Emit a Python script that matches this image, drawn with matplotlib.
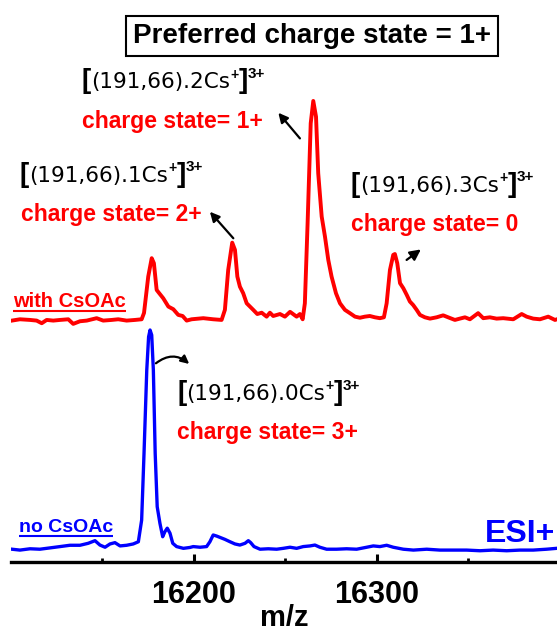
import matplotlib
matplotlib.use("Agg")
import matplotlib.pyplot as plt
from matplotlib.ticker import FixedLocator

plt.rcParams["font.family"] = ["Liberation Sans", "DejaVu Sans"]

# ---------------------------------------------------------------- data
# ESI+ spectrum of the (191,66) cluster with CsOAc added (relative intensity)
mz_red = [16100.5, 16104.9, 16110.4, 16114.0, 16116.8, 16119.5, 16123.1, 16126.8,
          16131.3, 16134.0, 16137.7, 16141.4, 16146.8, 16150.4, 16155.0, 16158.6,
          16163.2, 16167.8, 16171.4, 16172.7, 16175.0, 16176.9, 16178.1, 16179.6,
          16181.0, 16183.2, 16186.0, 16188.7, 16191.4, 16193.8, 16196.0, 16198.7,
          16205.1, 16210.5, 16215.1, 16216.9, 16218.7, 16220.9, 16222.4, 16223.7,
          16225.1, 16226.9, 16228.8, 16230.6, 16232.4, 16234.6, 16237.0, 16239.7,
          16241.5, 16243.3, 16247.0, 16249.7, 16252.5, 16256.1, 16257.9, 16259.4,
          16260.6, 16262.1, 16263.8, 16265.2, 16266.7, 16267.9, 16269.8, 16271.6,
          16273.4, 16275.2, 16277.6, 16279.8, 16282.5, 16285.2, 16288.0, 16290.7,
          16293.4, 16296.1, 16298.9, 16301.6, 16303.8, 16305.3, 16307.1, 16308.9,
          16309.8, 16311.1, 16312.6, 16314.4, 16316.3, 16318.0, 16319.8, 16321.7,
          16323.5, 16326.2, 16329.0, 16332.6, 16336.2, 16338.9, 16342.6, 16345.3,
          16348.1, 16350.8, 16355.3, 16358.1, 16361.7, 16365.4, 16369.0, 16374.5,
          16379.1, 16381.8, 16385.4, 16389.1, 16393.6, 16397.3, 16398.4]
int_red = [-0.3, 0.3, 0.0, -0.3, -1.5, 0.0, -0.3, 0.0,
           0.3, -1.8, -0.6, -0.3, 0.8, -0.3, 0.0, 0.3,
           -0.3, 0.0, 0.3, 3.2, 19.8, 28.2, 25.9, 13.7,
           12.2, 9.9, 6.1, 4.9, 2.3, 1.8, -0.3, 0.3,
           0.8, 0.3, 0.0, 4.6, 22.8, 35.3, 32.0, 19.8,
           15.2, 12.2, 7.6, 6.1, 4.6, 2.7, 3.3, 1.5,
           3.3, 1.8, 2.7, 1.5, 3.7, 1.5, 2.7, 0.3,
           7.6, 44.2, 89.8, 100.0, 92.8, 67.0, 47.2, 38.0,
           27.4, 19.8, 12.2, 7.6, 4.6, 3.1, 1.5, 1.0,
           1.5, 1.8, 1.2, 0.8, 1.2, 7.6, 22.8, 29.7,
           30.1, 25.9, 16.8, 14.5, 11.4, 8.4, 6.8, 4.6,
           2.3, 1.2, 0.6, 1.2, 2.1, 1.2, 0.0, 0.6,
           1.2, 0.3, 3.1, 0.8, 1.2, 0.6, 0.8, 0.3,
           2.7, 1.5, 0.6, 0.3, 1.5, 0.0, 0.3]

# ESI+ spectrum without CsOAc (relative intensity)
mz_blue = [16100.5, 16104.9, 16110.4, 16115.8, 16121.3, 16126.8, 16132.2, 16137.7,
           16142.2, 16145.9, 16148.6, 16151.4, 16154.1, 16156.8, 16159.6, 16163.2,
           16166.8, 16169.6, 16171.4, 16172.7, 16174.2, 16175.2, 16176.0, 16176.9,
           16177.8, 16178.8, 16179.9, 16181.4, 16182.9, 16184.1, 16185.4, 16186.9,
           16188.4, 16190.5, 16194.2, 16197.8, 16199.6, 16203.3, 16206.9, 16208.7,
           16210.5, 16212.4, 16214.2, 16216.9, 16219.7, 16222.4, 16225.1, 16227.9,
           16229.7, 16231.0, 16232.8, 16236.1, 16240.6, 16245.2, 16248.8, 16252.5,
           16256.1, 16259.7, 16263.4, 16266.1, 16268.8, 16272.5, 16277.9, 16283.4,
           16288.9, 16294.4, 16298.0, 16301.6, 16305.3, 16308.9, 16314.4, 16319.9,
           16327.2, 16334.4, 16341.7, 16349.0, 16356.3, 16363.5, 16370.9, 16378.1,
           16385.4, 16392.7, 16398.2]
int_blue = [-0.1, -0.5, 0.1, -0.1, 0.5, 1.1, 1.7, 1.7,
            2.6, 3.8, 1.8, 0.8, 2.3, 2.9, 1.4, 1.7,
            2.3, 3.3, 13.2, 43.7, 81.7, 96.9, 100.0, 97.7,
            81.7, 43.7, 19.3, 11.7, 5.6, 7.9, 9.5, 7.2,
            2.6, 1.1, 0.3, 0.7, 1.1, 0.8, 1.1, 3.3,
            6.4, 5.9, 5.3, 4.4, 3.3, 2.3, 1.8, 2.6,
            3.8, 2.9, 1.1, -0.1, 0.1, -0.1, 0.3, 0.8,
            0.3, 1.1, 1.4, 1.8, 0.8, -0.1, -0.1, 0.1,
            -0.1, 0.8, 1.4, 1.1, 1.7, 0.8, -0.1, -0.5,
            -0.1, -0.5, -0.5, -0.5, -0.8, -0.5, -0.8, -0.5,
            -0.5, -0.1, 0.3]

major_ticks = [16200, 16300]
minor_ticks = [16150, 16250, 16350]

# ---------------------------------------------------------------- style
RED = "#ff0000"
BLUE = "#0000ff"
RED_OFFSET = 104.6          # vertical stacking of the CsOAc trace
DPI = 100

fig = plt.figure(figsize=(5.57, 6.37), dpi=DPI)
ax = fig.add_axes([11 / 557, 75 / 637, 546 / 557, 562 / 637])

ax.plot(mz_blue, int_blue, color=BLUE, lw=2.4, solid_joinstyle="round")
ax.plot(mz_red, [v + RED_OFFSET for v in int_red], color=RED, lw=2.8,
        solid_joinstyle="round")

ax.set_xlim(16100, 16398.4)
ax.set_ylim(-5.94, 250.7)

for side in ("left", "right", "top"):
    ax.spines[side].set_visible(False)
ax.spines["bottom"].set_linewidth(2.4)
ax.set_yticks([])
ax.xaxis.set_major_locator(FixedLocator(major_ticks))
ax.xaxis.set_minor_locator(FixedLocator(minor_ticks))
ax.tick_params(axis="x", which="major", direction="in", length=6, width=2.2,
               pad=13, labelsize=22)
ax.tick_params(axis="x", which="minor", direction="in", length=3, width=2.0)
for lab in ax.get_xticklabels():
    lab.set_fontweight("bold")
ax.set_xlabel("m/z", fontsize=21, fontweight="bold", labelpad=-4)

renderer = fig.canvas.get_renderer()


def formula(x, y, n):
    """[(191,66).nCs+]3+ built from pieces laid out along one baseline."""
    pieces = [("[", 20, "bold", "Liberation Sans", 0.0),
              (f"(191,66).{n}Cs", 15.5, "normal", "DejaVu Sans", 0.0),
              ("+", 10, "bold", "Liberation Sans", 7.0),
              ("]", 20, "bold", "Liberation Sans", 0.0),
              ("3+", 11, "bold", "Liberation Sans", 7.4)]
    dx = 0.0
    for s, size, weight, fam, rise in pieces:
        t = ax.annotate(s, xy=(x, y), xytext=(dx, rise), textcoords="offset points",
                        fontsize=size, fontweight=weight, family=fam,
                        ha="left", va="baseline", color="black")
        dx += t.get_window_extent(renderer).width * 72 / DPI


def underlined(x, y, s, color, size):
    t = ax.text(x, y, s, color=color, fontsize=size, fontweight="bold",
                ha="left", va="baseline")
    bb = t.get_window_extent(renderer)
    y_disp = ax.transData.transform((x, y))[1] - 3.5
    inv = ax.transData.inverted()
    (x0, yu), (x1, _) = inv.transform([(bb.x0, y_disp), (bb.x1, y_disp)])
    ax.plot([x0, x1], [yu, yu], color=color, lw=1.5, solid_capstyle="butt")


def charge(x, y, s):
    ax.text(x, y, s, color=RED, fontsize=16.5, fontweight="bold",
            ha="left", va="baseline")


def arrow(head, tail, rad=0.0, scale=14):
    ax.annotate("", xy=head, xytext=tail,
                arrowprops=dict(arrowstyle="-|>", color="black", lw=1.6,
                                mutation_scale=scale, shrinkA=0, shrinkB=0,
                                connectionstyle=f"arc3,rad={rad}"))


# title box
ax.text(16264.7, 230.9, "Preferred charge state = 1+", ha="center", va="baseline",
        fontsize=20, fontweight="bold",
        bbox=dict(boxstyle="square,pad=0.25", fc="white", ec="black", lw=1.5))

# peak annotations
formula(16138.6, 210.4, 2)
charge(16138.6, 192.1, "charge state= 1+")
arrow((16246.1, 199.2), (16257.9, 187.5))

formula(16104.9, 167.8, 1)
charge(16105.3, 149.9, "charge state= 2+")
arrow((16208.7, 154.0), (16221.5, 141.9))

formula(16285.8, 163.2, 3)
charge(16285.8, 145.3, "charge state= 0")
arrow((16324.0, 136.8), (16316.2, 132.0), scale=16)

formula(16190.9, 68.0, 0)
charge(16190.9, 50.1, "charge state= 3+")
arrow((16197.4, 84.5), (16179.2, 84.8), rad=-0.4, scale=12)

# trace labels
underlined(16101.1, 110.3, "with CsOAc", RED, 14.5)
underlined(16104.5, 7.6, "no CsOAc", BLUE, 14)
ax.text(16397.2, 3.3, "ESI+", color=BLUE, fontsize=23, fontweight="bold",
        ha="right", va="baseline")

fig.savefig("out.png", dpi=DPI)
